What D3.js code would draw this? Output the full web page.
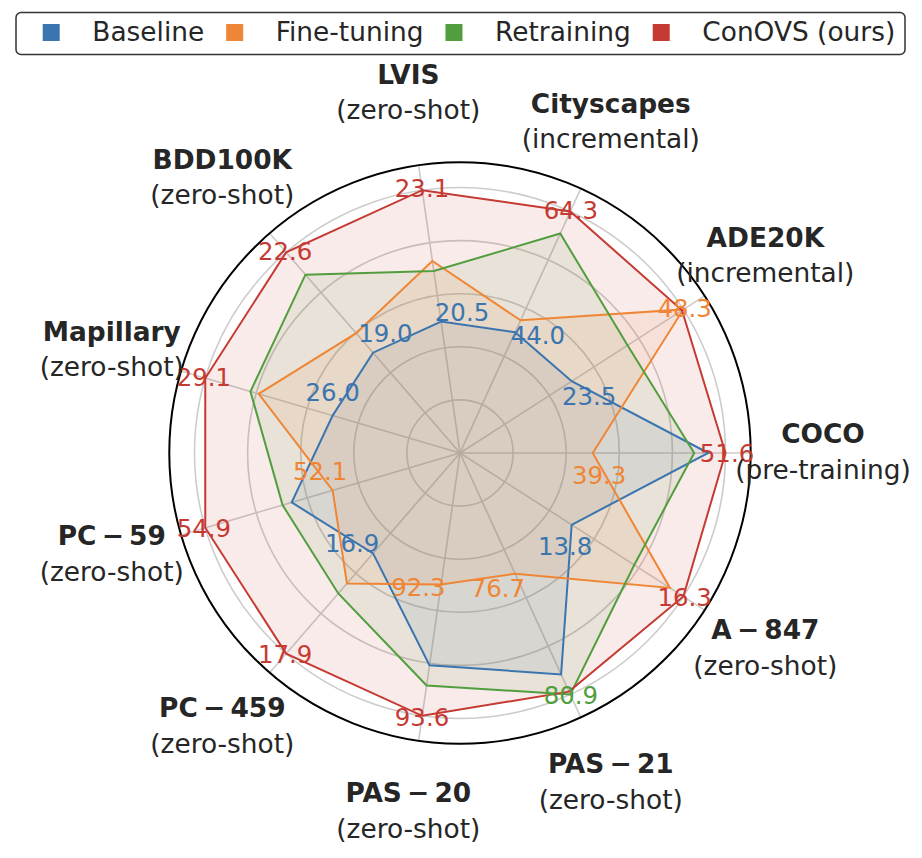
<!DOCTYPE html>
<html>
<head>
<meta charset="utf-8">
<script src="https://cdn.jsdelivr.net/npm/d3@7"></script>
<style>
  html, body { margin: 0; padding: 0; background: #ffffff; }
  svg { display: block; }
  text { font-family: "DejaVu Sans", sans-serif; }
</style>
</head>
<body>
<svg id="chart" width="922" height="858"></svg>
<script>
// ---------------- data ----------------
const categories = ["COCO", "ADE20K", "Cityscapes", "LVIS", "BDD100K", "Mapillary",
  "PC\u2009\u2212\u200959", "PC\u2009\u2212\u2009459", "PAS\u2009\u2212\u200920",
  "PAS\u2009\u2212\u200921", "A\u2009\u2212\u2009847"];
const subtitles = ["(pre-training)", "(incremental)", "(incremental)", "(zero-shot)",
  "(zero-shot)", "(zero-shot)", "(zero-shot)", "(zero-shot)", "(zero-shot)",
  "(zero-shot)", "(zero-shot)"];

const seriesNames = ["Baseline", "Fine-tuning", "Retraining", "ConOVS (ours)"];
const seriesColors = ["#3b75af", "#ef8636", "#519e3e", "#c53a32"];

const baseline   = [50.0, 23.5, 44.0, 20.5, 19.0, 26.0, 53.0, 16.9, 93.1, 80.2, 13.8];
const fineTuning = [39.3, 48.3, 46.0, 21.7, 19.7, 27.8, 52.1, 17.2, 92.3, 76.7, 16.0];
const retraining = [48.7, 35.9, 60.6, 21.5, 21.8, 28.0, 53.2, 17.3, 93.3, 80.9, 15.2];
const conovs     = [51.6, 48.0, 64.3, 23.1, 22.6, 29.1, 54.9, 17.9, 93.6, 80.8, 16.3];

const seriesValues = [baseline, fineTuning, retraining, conovs];
const gridLevels = [0.2, 0.4, 0.6, 0.8, 1.0];

// ---------------- layout ----------------
const svg = d3.select("#chart");
const cx = 460, cy = 453;
const R = 265.5;
const N = categories.length;

const rScale = d3.scaleLinear().domain([0, 1]).range([0, R]);
const angle = d3.scaleLinear().domain([0, N]).range([0, 2 * Math.PI]);

// per-axis normalisation: min -> 0.5, max -> 1.0
const axisScales = categories.map((c, i) => {
  const vals = seriesValues.map(s => s[i]);
  return d3.scaleLinear().domain(d3.extent(vals)).range([0.5, 1.0]);
});

function pt(theta, r) {
  return [cx + r * Math.cos(theta), cy - r * Math.sin(theta)];
}

const g = svg.append("g");

// grid circles
g.selectAll("circle.grid").data(gridLevels).join("circle")
  .attr("cx", cx).attr("cy", cy).attr("r", d => rScale(d))
  .attr("fill", "none").attr("stroke", "#cccccc").attr("stroke-width", 1.6);

// spokes
const rOuter = 1.095;
g.selectAll("line.spoke").data(categories).join("line")
  .attr("x1", cx).attr("y1", cy)
  .attr("x2", (d, i) => pt(angle(i), rScale(rOuter))[0])
  .attr("y2", (d, i) => pt(angle(i), rScale(rOuter))[1])
  .attr("stroke", "#cccccc").attr("stroke-width", 1.6);

// series polygons
const line = d3.lineRadial()
  .angle((d, i) => Math.PI / 2 - angle(i))
  .radius((d, i) => rScale(axisScales[i](d)))
  .curve(d3.curveLinearClosed);

const sg = g.append("g").attr("transform", `translate(${cx},${cy})`);
seriesValues.forEach((vals, si) => {
  sg.append("path")
    .attr("d", line(vals))
    .attr("fill", seriesColors[si]).attr("fill-opacity", 0.1)
    .attr("stroke", "none");
});
seriesValues.forEach((vals, si) => {
  sg.append("path")
    .attr("d", line(vals))
    .attr("fill", "none")
    .attr("stroke", seriesColors[si]).attr("stroke-width", 2)
    .attr("stroke-linejoin", "miter");
});

// outer spine
g.append("circle").attr("cx", cx).attr("cy", cy).attr("r", rScale(rOuter))
  .attr("fill", "none").attr("stroke", "#000").attr("stroke-width", 2);

// min / max value labels
const labelG = g.append("g");
categories.forEach((c, i) => {
  const vals = seriesValues.map(s => s[i]);
  const [mn, mx] = d3.extent(vals);
  const iMin = vals.indexOf(mn), iMax = vals.indexOf(mx);
  const th = angle(i);
  const pMax = pt(th, rScale(1.0) + 1.5);
  labelG.append("text")
    .attr("x", pMax[0]).attr("y", pMax[1])
    .attr("text-anchor", "middle").attr("dominant-baseline", "central")
    .attr("font-size", 24.4).attr("fill", seriesColors[iMax])
    .text(mx.toFixed(1));
  const pMin = pt(th - 9 * Math.PI / 180, rScale(0.531));
  labelG.append("text")
    .attr("x", pMin[0]).attr("y", pMin[1])
    .attr("text-anchor", "middle").attr("dominant-baseline", "central")
    .attr("font-size", 24.4).attr("fill", seriesColors[iMin])
    .text(mn.toFixed(1));
});

// category labels
const catG = g.append("g");
categories.forEach((c, i) => {
  const p = pt(angle(i), rScale(1.367));
  const t = catG.append("text").attr("text-anchor", "middle")
    .attr("font-size", 26.4).attr("fill", "#262626");
  t.append("tspan").attr("x", p[0]).attr("y", p[1] - 10)
    .attr("font-weight", "bold").text(c);
  t.append("tspan").attr("x", p[0]).attr("y", p[1] + 25.5).text(subtitles[i]);
});

// legend
const leg = svg.append("g");
leg.append("rect").attr("x", 16).attr("y", 12.5).attr("width", 889).attr("height", 42)
  .attr("rx", 5).attr("fill", "#fff").attr("stroke", "#333").attr("stroke-width", 1.5);
let lx = 42.7;
seriesNames.forEach((name, si) => {
  leg.append("rect").attr("x", lx).attr("y", 24).attr("width", 17).attr("height", 17)
    .attr("fill", seriesColors[si]);
  const tx = lx + 49.6;
  const t = leg.append("text").attr("x", tx).attr("y", 40.7)
    .attr("font-size", 26.4).attr("fill", "#262626").text(name);
  const w = t.node().getComputedTextLength();
  lx = tx + w + 22;
});
</script>
</body>
</html>
